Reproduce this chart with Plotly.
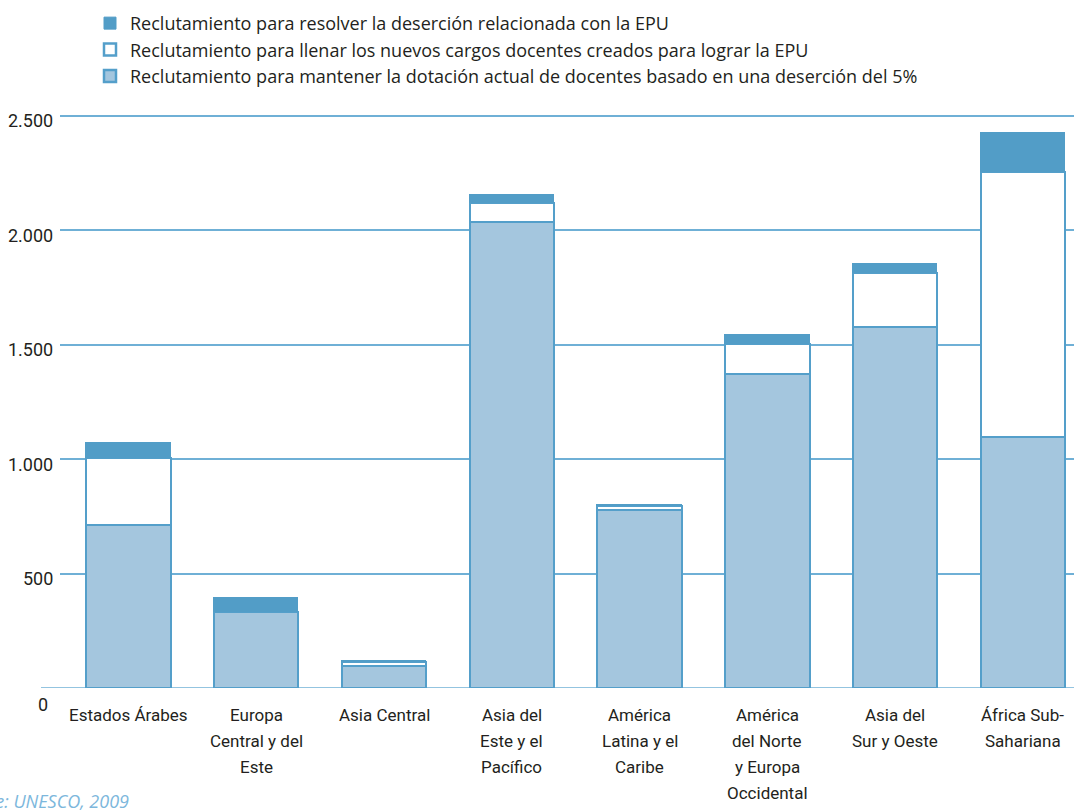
import plotly.graph_objects as go

categories = ["Estados Árabes", "Europa<br>Central y del<br>Este", "Asia Central",
              "Asia del<br>Este y el<br>Pacífico", "América<br>Latina y el<br>Caribe",
              "América<br>del Norte<br>y Europa<br>Occidental", "Asia del<br>Sur y Oeste",
              "África Sub-<br>Sahariana"]
mantener = [712, 332, 96, 2035, 778, 1371, 1576, 1096]
llenar = [292, 0, 18, 83, 18, 131, 239, 1157]
desercion = [66, 61, 3, 35, 3, 39, 37, 174]

names = ["Reclutamiento para mantener la dotación actual de docentes basado en una deserción del 5%",
         "Reclutamiento para llenar los nuevos cargos docentes creados para lograr la EPU",
         "Reclutamiento para resolver la deserción relacionada con la EPU"]

ytick_vals = [0, 500, 1000, 1500, 2000, 2500]
ytick_text = ["0", "500", "1.000", "1.500", "2.000", "2.500"]

DARK = "#529dc7"
LIGHT = "#a4c6de"
EDGE = "#549fca"
GRID = "#6fb0d6"
TXT = "#231f20"
NARROW = "Roboto, Liberation Sans, sans-serif"

x = list(range(len(categories)))
fig = go.Figure()
fig.add_trace(go.Bar(x=x, y=mantener, name=names[0], width=0.66,
                     marker=dict(color=LIGHT, line=dict(color=EDGE, width=2.5))))
fig.add_trace(go.Bar(x=x, y=llenar, name=names[1], width=0.66,
                     marker=dict(color="white", line=dict(color=EDGE, width=2.5))))
fig.add_trace(go.Bar(x=x, y=desercion, name=names[2], width=0.66,
                     marker=dict(color=DARK, line=dict(color=DARK, width=1))))

annotations = []
for v, t in zip(ytick_vals, ytick_text):
    annotations.append(dict(x=0, xref="paper", xanchor="right", xshift=-5 if v else -10,
                            y=v, yref="y", yanchor="middle", yshift=-5 if v else -16,
                            text=t, showarrow=False,
                            font=dict(family=NARROW, size=18, color=TXT)))
# category labels, one text line per annotation for the original line spacing
for i, cat in enumerate(categories):
    for k, line in enumerate(cat.split("<br>")):
        annotations.append(dict(x=i, xref="x", xanchor="center",
                                y=0, yref="paper", yanchor="middle", yshift=-(27 + 26 * k),
                                text=line, showarrow=False,
                                font=dict(family=NARROW, size=17, color=TXT)))
annotations.append(dict(x=(131 - 60) / 1014, xref="paper", xanchor="right",
                        y=-0.19, yref="paper", yanchor="middle",
                        text="<i>Fuente: UNESCO, 2009</i>", showarrow=False,
                        font=dict(family="Open Sans, sans-serif", size=18, color="#7cb7dc")))

fig.update_layout(
    width=1074, height=810,
    margin=dict(l=60, r=0, t=93, b=122),
    barmode="stack",
    bargap=0,
    paper_bgcolor="white", plot_bgcolor="white",
    showlegend=True,
    legend=dict(x=(90 - 60) / 1014, y=1.148, xanchor="left", yanchor="top",
                traceorder="reversed", font=dict(family="Open Sans, sans-serif", size=18, color=TXT),
                bgcolor="rgba(0,0,0,0)", tracegroupgap=0),
    xaxis=dict(range=[-0.536, 7.40], tickmode="array", tickvals=x, ticktext=[""] * len(x),
               showgrid=False, zeroline=False, showline=False, ticks=""),
    yaxis=dict(range=[0, 2600], tickvals=ytick_vals, showticklabels=False,
               showgrid=True, gridcolor=GRID, gridwidth=1.5, zeroline=False, showline=False),
    annotations=annotations,
    shapes=[dict(type="line", xref="paper", yref="y", x0=(41 - 60) / 1014, x1=1, y0=0, y1=0,
                 line=dict(color=GRID, width=1.5), layer="below")],
)

fig.write_html("out.html")
